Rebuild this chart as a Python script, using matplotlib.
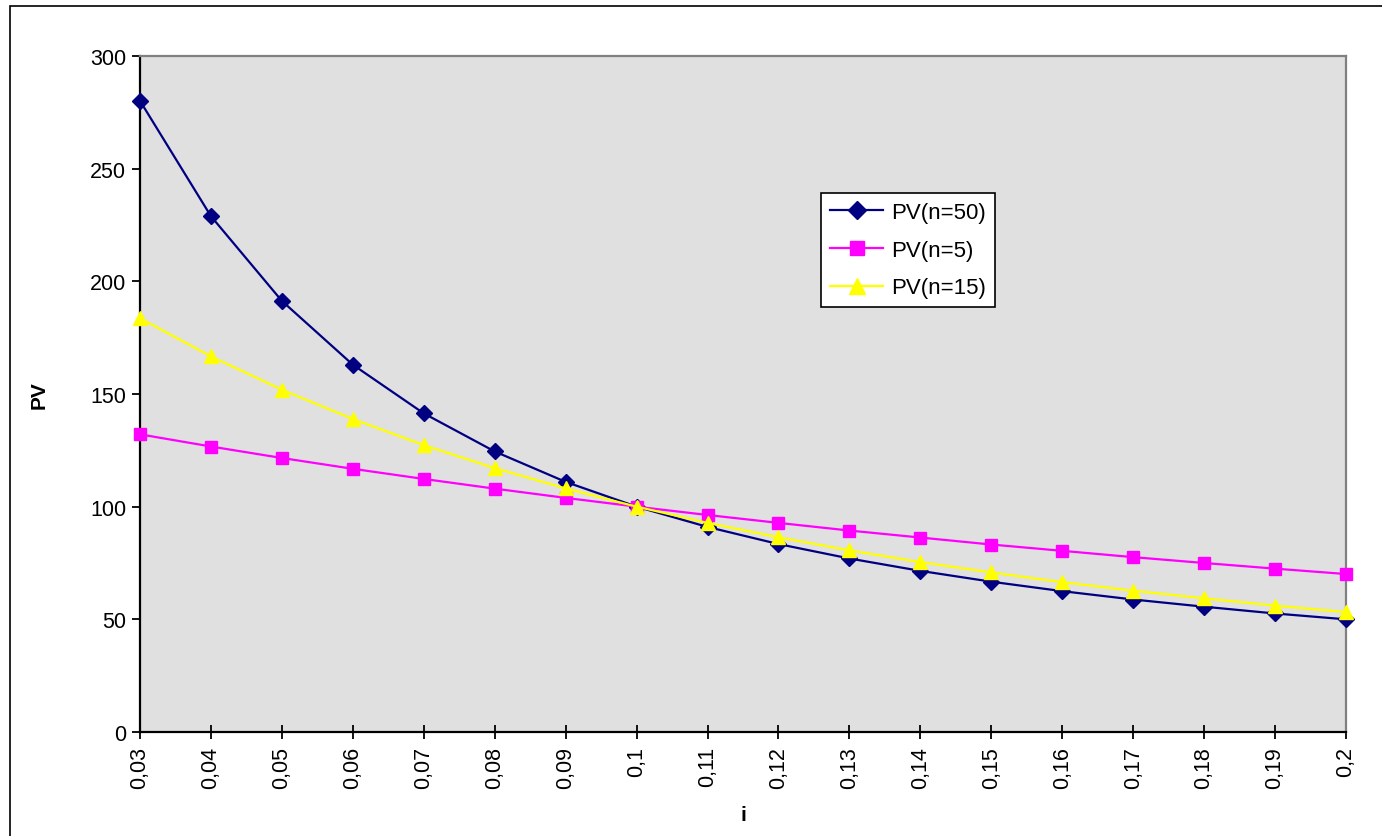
import numpy as np
import matplotlib
matplotlib.use("Agg")
import matplotlib.pyplot as plt
from matplotlib.patches import Rectangle

plt.rcParams['font.family'] = ['Liberation Sans', 'DejaVu Sans']

# interest rates (category axis)
rates = ['0,03', '0,04', '0,05', '0,06', '0,07', '0,08', '0,09', '0,1', '0,11',
         '0,12', '0,13', '0,14', '0,15', '0,16', '0,17', '0,18', '0,19', '0,2']

pv_n50 = [280.1, 228.9, 191.3, 163.0, 141.4, 124.5, 111.0, 100.0, 91.0,
          83.4, 77.0, 71.5, 66.7, 62.5, 58.8, 55.6, 52.6, 50.0]
pv_n5 = [132.1, 126.7, 121.6, 116.8, 112.3, 108.0, 103.9, 100.0, 96.3,
         92.8, 89.4, 86.3, 83.2, 80.4, 77.6, 75.0, 72.5, 70.1]
pv_n15 = [183.6, 166.7, 151.9, 138.9, 127.3, 117.1, 108.1, 100.0, 92.8,
          86.4, 80.6, 75.4, 70.8, 66.5, 62.7, 59.3, 56.1, 53.2]

W, H = 1382, 837
fig = plt.figure(figsize=(W / 100, H / 100), dpi=100)

# outer chart border
fig.patches.append(Rectangle((10 / W, -0.1), 1.2, 1 - 7 / H + 0.1,
                             transform=fig.transFigure, fill=False,
                             edgecolor='black', linewidth=1.2))

ax = fig.add_axes([140 / W, (H - 733) / H, (1346 - 140) / W, (733 - 57) / H])
ax.set_facecolor('#E0E0E0')

x = np.arange(len(rates))
ax.plot(x, pv_n50, color='#000080', marker='D', markersize=8, linewidth=1.6,
        label='PV(n=50)', clip_on=False, zorder=3)
ax.plot(x, pv_n5, color='#FF00FF', marker='s', markersize=8, linewidth=1.6,
        label='PV(n=5)', clip_on=False, zorder=3)
ax.plot(x, pv_n15, color='#FFFF00', marker='^', markersize=10, linewidth=1.6,
        label='PV(n=15)', clip_on=False, zorder=4)

ax.set_xlim(0, len(rates) - 1)
ax.set_ylim(0, 300)
ax.set_yticks(range(0, 301, 50))
ax.set_xticks(x)
ax.set_xticklabels(rates, rotation=90)

for s in ['left', 'bottom']:
    ax.spines[s].set_color('black')
    ax.spines[s].set_linewidth(1.6)
for s in ['top', 'right']:
    ax.spines[s].set_color('#808080')
    ax.spines[s].set_linewidth(1.6)

ax.tick_params(axis='y', direction='out', length=6, width=1.3, labelsize=15.5, pad=4)
ax.tick_params(axis='x', direction='inout', length=10, width=1.3, labelsize=15.5, pad=5)

ax.set_xlabel('i', fontsize=15, fontweight='bold', labelpad=12)
ax.set_ylabel('PV', fontsize=15, fontweight='bold', labelpad=30)

leg = ax.legend(loc='upper left', bbox_to_anchor=(0.5647, 0.797), fontsize=16,
                frameon=True, fancybox=False, edgecolor='black', framealpha=1,
                handlelength=2.4, borderpad=0.4, labelspacing=0.75, handletextpad=0.35,
                markerscale=1.2, borderaxespad=0)
leg.get_frame().set_linewidth(1.2)

fig.savefig('out.png', dpi=100)
